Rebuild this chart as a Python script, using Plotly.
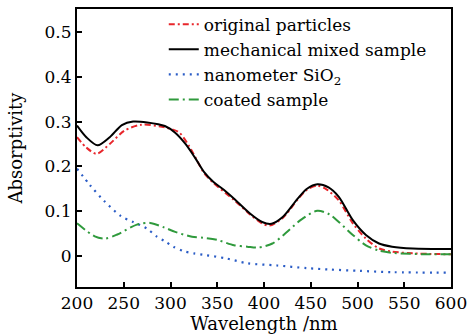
import plotly.graph_objects as go

# --- data ---
mech_x = [200, 210, 222, 235, 248, 260, 275, 294, 305, 316, 326, 336, 346, 357, 368, 385, 398, 408, 420, 436, 446, 457, 469, 480, 495, 509, 523, 537, 559, 600]
mech_y = [0.291, 0.265, 0.247, 0.265, 0.292, 0.300, 0.298, 0.290, 0.275, 0.250, 0.220, 0.187, 0.165, 0.148, 0.128, 0.095, 0.076, 0.072, 0.087, 0.128, 0.150, 0.160, 0.153, 0.132, 0.080, 0.047, 0.028, 0.021, 0.017, 0.016]

orig_x = [200, 210, 221, 235, 251, 269, 294, 309, 320, 336, 346, 368, 385, 398, 406, 420, 436, 446, 457, 466, 480, 495, 509, 523, 537, 559, 600]
orig_y = [0.265, 0.242, 0.228, 0.250, 0.280, 0.293, 0.287, 0.276, 0.245, 0.185, 0.163, 0.125, 0.093, 0.073, 0.068, 0.085, 0.126, 0.148, 0.157, 0.150, 0.124, 0.073, 0.039, 0.017, 0.010, 0.006, 0.004]

sio2_x = [200, 214, 229, 247, 260, 275, 285, 294, 303, 314, 325, 335, 359, 382, 414, 446, 470, 502, 538, 600]
sio2_y = [0.195, 0.158, 0.123, 0.089, 0.076, 0.061, 0.044, 0.033, 0.021, 0.011, 0.006, 0.003, -0.005, -0.016, -0.021, -0.027, -0.030, -0.033, -0.036, -0.037]

coat_x = [200, 219, 230, 243, 264, 278, 293, 305, 323, 335, 350, 368, 382, 394, 409, 421, 439, 457, 470, 480, 495, 509, 523, 538, 573, 600]
coat_y = [0.073, 0.044, 0.039, 0.048, 0.070, 0.074, 0.064, 0.054, 0.043, 0.041, 0.036, 0.024, 0.021, 0.019, 0.028, 0.047, 0.080, 0.101, 0.093, 0.076, 0.047, 0.024, 0.012, 0.007, 0.004, 0.004]

names = ["original particles", "mechanical mixed sample", "nanometer SiO<sub>2</sub>", "coated sample"]
x_ticks = [200, 250, 300, 350, 400, 450, 500, 550, 600]
y_ticks = [0, 0.1, 0.2, 0.3, 0.4, 0.5]
y_labels = ["0", "0.1", "0.2", "0.3", "0.4", "0.5"]

FONT = "DejaVu Serif"

fig = go.Figure()
fig.add_trace(go.Scatter(x=orig_x, y=orig_y, name=names[0], mode="lines",
                         line=dict(color="#e8262b", width=2, dash="6px,3px,2px,3px", shape="spline", smoothing=0.8)))
fig.add_trace(go.Scatter(x=mech_x, y=mech_y, name=names[1], mode="lines",
                         line=dict(color="#000000", width=2, shape="spline", smoothing=0.8)))
fig.add_trace(go.Scatter(x=sio2_x, y=sio2_y, name=names[2], mode="lines",
                         line=dict(color="#2a5cc6", width=2.2, dash="2px,5px", shape="spline", smoothing=0.8)))
fig.add_trace(go.Scatter(x=coat_x, y=coat_y, name=names[3], mode="lines",
                         line=dict(color="#2f9a3c", width=2, dash="10px,4px,2px,4px", shape="spline", smoothing=0.8)))

axis_common = dict(showline=True, linecolor="black", linewidth=2, mirror=True,
                   ticks="inside", ticklen=5, tickwidth=1.5, tickcolor="black",
                   showgrid=False, zeroline=False, automargin=False,
                   tickfont=dict(family=FONT, size=17, color="black"))

fig.update_xaxes(range=[200, 600], tickvals=x_ticks, ticktext=[str(v) for v in x_ticks],
                 title=dict(text="Wavelength /nm", font=dict(family=FONT, size=18, color="black"), standoff=0),
                 **axis_common)
fig.update_yaxes(range=[-0.069, 0.551], tickvals=y_ticks, ticktext=y_labels,
                 title=dict(text="Absorptivity", font=dict(family=FONT, size=18, color="black"), standoff=17),
                 **axis_common)

fig.update_layout(
    width=470, height=336,
    margin=dict(l=77, r=19, t=8, b=49),
    paper_bgcolor="white", plot_bgcolor="white",
    showlegend=True,
    legend=dict(x=0.232, y=1.005, xanchor="left", yanchor="top",
                bgcolor="rgba(0,0,0,0)", borderwidth=0,
                font=dict(family=FONT, size=17, color="black"),
                tracegroupgap=0, itemwidth=30),
)

fig.write_html("out.html",
               config={"displayModeBar": False},
               post_script="document.body.style.margin='0';document.body.style.padding='0';document.documentElement.style.overflow='hidden';")
